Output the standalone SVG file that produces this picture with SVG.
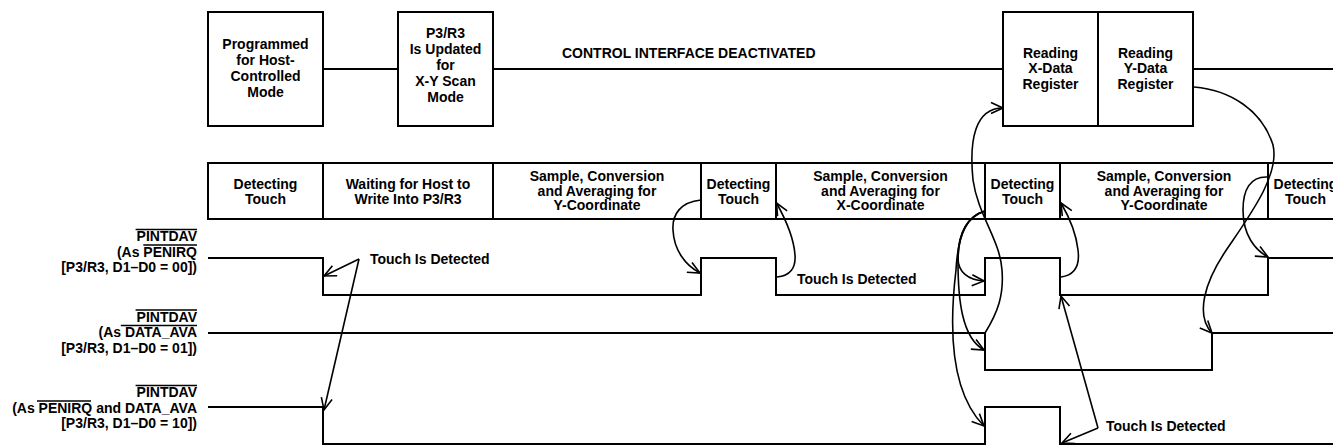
<svg xmlns="http://www.w3.org/2000/svg" width="1333" height="446" viewBox="0 0 1333 446">
<style>
text{font-family:"Liberation Sans",Arial,sans-serif;font-weight:bold;font-size:14px;fill:#000}
.c{text-anchor:middle}
.r{text-anchor:end}
.box{fill:#fff;stroke:#000;stroke-width:2}
.ln{fill:none;stroke:#000;stroke-width:2}
.sig{fill:none;stroke:#000;stroke-width:2}
.arr{fill:none;stroke:#000;stroke-width:1.6;marker-end:url(#ah)}
.ovl{fill:none;stroke:#000;stroke-width:1.3}
</style>
<defs>
<marker id="ah" viewBox="-14 -7 16 14" refX="0" refY="0" markerWidth="16" markerHeight="14" markerUnits="userSpaceOnUse" orient="auto" overflow="visible">
<path d="M-12,-5.5 L0,0 L-12,5.5" fill="none" stroke="#000" stroke-width="1.6"/>
</marker>
</defs>
<rect width="1333" height="446" fill="#fff"/>

<g id="connectors">
<path class="ln" d="M323,69 H398 M493,69 H1003 M1193,69 H1333"/>
<path class="arr" d="M359,259 L324,276"/>
<path class="arr" d="M359,259 L324,410"/>
<path class="arr" d="M701,200 C680,202 672,215 673,230 C674,250 685,265 700,273"/>
<path class="arr" d="M777,277 C790,276 796,268 795,255 C794,240 786,220 776.5,203"/>
<path class="arr" d="M985,211 C968,216 958,232 958,258 C958,272 968,280 984,281"/>
<path class="arr" d="M985,211 C968,216 958,232 958,262 C958,300 962,338 984,350"/>
<path class="arr" d="M985,211 C968,216 958,232 956,270 C950,320 948,390 984,426"/>
<path class="arr" d="M985,333 C998,312 1004,295 1002,270 C1000,240 978,215 973,180 C969,140 975,108 1003,108"/>
<path class="arr" d="M1061,277 C1075,275 1080,265 1078,250 C1076,232 1068,215 1061,203"/>
<path class="arr" d="M1098,428 L1061,296"/>
<path class="arr" d="M1098,428 L1062,443"/>
<path class="arr" d="M1194,87 C1230,90 1262,110 1273,145 C1280,175 1250,215 1225,252 C1205,282 1195,315 1212,333"/>
<path class="arr" d="M1268,177 C1250,176 1243,190 1243,210 C1243,235 1255,250 1268,257"/>
</g>

<g id="box-host-mode">
<rect class="box" x="208" y="12" width="115" height="114"/>
<text class="c" x="265.5" y="49">Programmed</text>
<text class="c" x="265.5" y="65">for Host-</text>
<text class="c" x="265.5" y="81">Controlled</text>
<text class="c" x="265.5" y="97">Mode</text>
</g>
<g id="box-p3r3-updated">
<rect class="box" x="398" y="12" width="95" height="114"/>
<text class="c" x="445.5" y="37.5">P3/R3</text>
<text class="c" x="445.5" y="53.5">Is Updated</text>
<text class="c" x="445.5" y="69.5">for</text>
<text class="c" x="445.5" y="85.5">X-Y Scan</text>
<text class="c" x="445.5" y="101.5">Mode</text>
</g>
<g id="label-control-deactivated">
<text x="562" y="58">CONTROL INTERFACE DEACTIVATED</text>
</g>
<g id="box-read-x">
<rect class="box" x="1003" y="12" width="95" height="114"/>
<text class="c" x="1050.5" y="57.5">Reading</text>
<text class="c" x="1050.5" y="73">X-Data</text>
<text class="c" x="1050.5" y="88.5">Register</text>
</g>
<g id="box-read-y">
<rect class="box" x="1098" y="12" width="95" height="114"/>
<text class="c" x="1145.5" y="57.5">Reading</text>
<text class="c" x="1145.5" y="73">Y-Data</text>
<text class="c" x="1145.5" y="88.5">Register</text>
</g>

<g id="state-row">
<path class="ln" d="M1334,163 H208 V219 H1334"/>
</g>
<g id="state-detect-1">
<text class="c" x="265.5" y="189">Detecting</text>
<text class="c" x="265.5" y="203.5">Touch</text>
</g>
<g id="state-waiting">
<line class="ln" x1="323" y1="163" x2="323" y2="219"/>
<text class="c" x="408" y="189">Waiting for Host to</text>
<text class="c" x="408" y="203.5">Write Into P3/R3</text>
</g>
<g id="state-sample-y-1">
<line class="ln" x1="493" y1="163" x2="493" y2="219"/>
<text class="c" x="597" y="181">Sample, Conversion</text>
<text class="c" x="597" y="195.5">and Averaging for</text>
<text class="c" x="597" y="210">Y-Coordinate</text>
</g>
<g id="state-detect-2">
<line class="ln" x1="701" y1="163" x2="701" y2="219"/>
<text class="c" x="738.5" y="189">Detecting</text>
<text class="c" x="738.5" y="203.5">Touch</text>
</g>
<g id="state-sample-x">
<line class="ln" x1="776" y1="163" x2="776" y2="219"/>
<text class="c" x="880.5" y="181">Sample, Conversion</text>
<text class="c" x="880.5" y="195.5">and Averaging for</text>
<text class="c" x="880.5" y="210">X-Coordinate</text>
</g>
<g id="state-detect-3">
<line class="ln" x1="985" y1="163" x2="985" y2="219"/>
<text class="c" x="1022.5" y="189">Detecting</text>
<text class="c" x="1022.5" y="203.5">Touch</text>
</g>
<g id="state-sample-y-2">
<line class="ln" x1="1060" y1="163" x2="1060" y2="219"/>
<text class="c" x="1164" y="181">Sample, Conversion</text>
<text class="c" x="1164" y="195.5">and Averaging for</text>
<text class="c" x="1164" y="210">Y-Coordinate</text>
</g>
<g id="state-detect-4">
<line class="ln" x1="1268" y1="163" x2="1268" y2="219"/>
<text class="c" x="1305.5" y="189">Detecting</text>
<text class="c" x="1305.5" y="203.5">Touch</text>
</g>

<g id="signal-penirq">
<text class="r" x="197" y="241">PINTDAV</text>
<text class="r" x="197" y="256.5">(As PENIRQ</text>
<text class="r" x="197" y="272">[P3/R3, D1–D0 = 00])</text>
<path class="ovl" d="M135.6,229.5 H197 M143.3,245 H197"/>
<path class="sig" d="M208,258 H323 V295 H701 V258 H776 V295 H985 V258 H1060 V295 H1268 V258 H1334"/>
</g>
<g id="signal-data-ava">
<text class="r" x="197" y="321.5">PINTDAV</text>
<text class="r" x="197" y="337">(As DATA_AVA</text>
<text class="r" x="197" y="352.5">[P3/R3, D1–D0 = 01])</text>
<path class="ovl" d="M135.6,310 H197 M120.8,325.5 H197"/>
<path class="sig" d="M208,333 H985 V370 H1212 V333 H1334"/>
</g>
<g id="signal-penirq-data-ava">
<text class="r" x="197" y="397">PINTDAV</text>
<text class="r" x="197" y="412.5">(As PENIRQ and DATA_AVA</text>
<text class="r" x="197" y="428">[P3/R3, D1–D0 = 10])</text>
<path class="ovl" d="M135.6,385.5 H197 M37,401 H91"/>
<path class="sig" d="M208,407 H323 V444 H985 V407 H1060 V444 H1334"/>
</g>

<g id="label-touch-1"><text x="370" y="264">Touch Is Detected</text></g>
<g id="label-touch-2"><text x="797" y="284">Touch Is Detected</text></g>
<g id="label-touch-3"><text x="1106" y="431">Touch Is Detected</text></g>
</svg>
